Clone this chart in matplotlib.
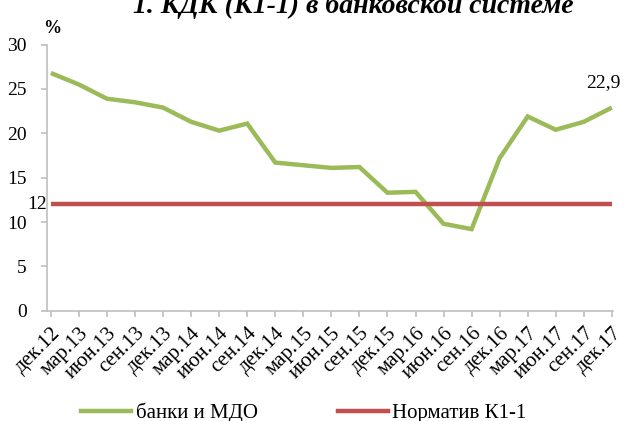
import matplotlib
matplotlib.use("Agg")
import matplotlib.pyplot as plt
from matplotlib.lines import Line2D

# Данные
periods = ["дек.12", "мар.13", "июн.13", "сен.13", "дек.13", "мар.14", "июн.14",
           "сен.14", "дек.14", "мар.15", "июн.15", "сен.15", "дек.15", "мар.16",
           "июн.16", "сен.16", "дек.16", "мар.17", "июн.17", "сен.17", "дек.17"]
banks_mdo = [26.8, 25.5, 23.9, 23.5, 22.9, 21.3, 20.3, 21.1, 16.7, 16.4, 16.1,
             16.2, 13.3, 13.4, 9.8, 9.2, 17.2, 21.9, 20.4, 21.3, 22.9]
norm_k11 = [12] * len(periods)

green = "#9BBB59"
red = "#C0504D"
grey = "#BFBFBF"

plt.rcParams["font.family"] = ["Liberation Serif", "DejaVu Serif"]

fig = plt.figure(figsize=(6.24, 4.21), dpi=100)
ax = fig.add_axes([0.0748, 0.262, 0.9075, 0.632])

x = range(len(periods))
ax.plot(x, banks_mdo, color=green, lw=3.2, solid_capstyle="butt", solid_joinstyle="miter")
ax.plot(x, norm_k11, color=red, lw=3.2, solid_capstyle="butt")

ax.set_ylim(0, 30)
ax.set_yticks(range(0, 31, 5))
ax.set_xlim(-0.15, 20.04)
ax.set_xticks(list(x))
ax.set_xticklabels(periods, rotation=45, ha="right", rotation_mode="anchor")

for s in ["top", "right"]:
    ax.spines[s].set_visible(False)
for s in ["left", "bottom"]:
    ax.spines[s].set_color(grey)
    ax.spines[s].set_linewidth(1.2)
ax.tick_params(axis="both", colors=grey, labelcolor="black", length=4.5, width=1.2)
ax.tick_params(axis="y", labelsize=14, pad=10)
ax.tick_params(axis="x", labelsize=15, pad=5)

# подписи
ax.text(-0.15, 12, "12", ha="right", va="center", fontsize=14)
ax.text(19.68, 25.67, "22,9", ha="center", va="center", fontsize=14)

fig.text(0.083, 0.932, "%", fontsize=13, fontweight="bold", ha="center", va="center")
fig.text(0.567, 0.985, "1. КДК (К1-1) в банковской системе", fontsize=20,
         fontweight="bold", style="italic", ha="center", va="center")

handles = [Line2D([], [], color=green, lw=3.2), Line2D([], [], color=red, lw=3.2)]
fig.legend(handles, ["банки и МДО", "Норматив К1-1"], loc="center",
           bbox_to_anchor=(0.487, 1 - 413 / 421), ncol=2, frameon=False, fontsize=15,
           handlelength=2.4, handletextpad=0.2, columnspacing=3.85)

fig.savefig("out.png", dpi=100)
